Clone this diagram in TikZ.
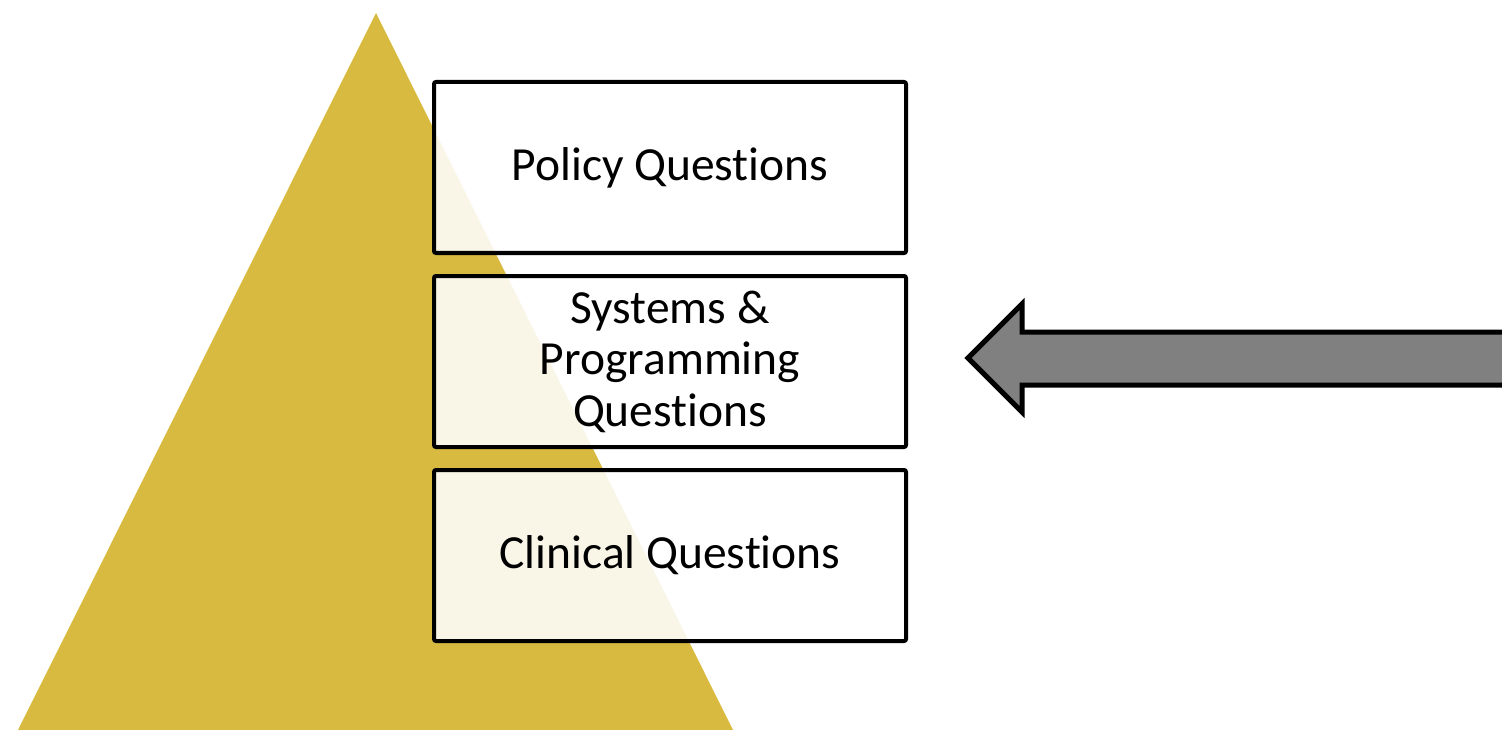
\documentclass[tikz,border=0pt]{standalone}
\usepackage{fontspec}
\setmainfont[Ligatures={NoCommon}]{Carlito}
\definecolor{gold}{HTML}{D9BA40}
\definecolor{arrowgray}{HTML}{808080}
\begin{document}
\begin{tikzpicture}[x=1pt,y=-1pt,
  qbox/.style={draw=black,line width=4pt,rounded corners=2pt,fill=white,fill opacity=0.88,text opacity=1,minimum width=472pt,minimum height=171pt,inner sep=0pt,align=center,font=\fontsize{47.5}{51.5}\selectfont,anchor=north west}]
\useasboundingbox (0,0) rectangle (1502,730);
\fill[gold] (376,13) -- (733,730) -- (18,730) -- cycle;
\node[qbox] (policy) at (432,80) {Policy Questions};
\node[qbox] (systems) at (432,274) {Systems \&\\Programming\\Questions};
\node[qbox] (clinical) at (432,468) {Clinical Questions};
\draw[line width=5pt,line join=miter,fill=arrowgray] (1510,332) -- (1022,332) -- (1022,304) -- (968,358) -- (1022,412) -- (1022,385) -- (1510,385);
\end{tikzpicture}
\end{document}
